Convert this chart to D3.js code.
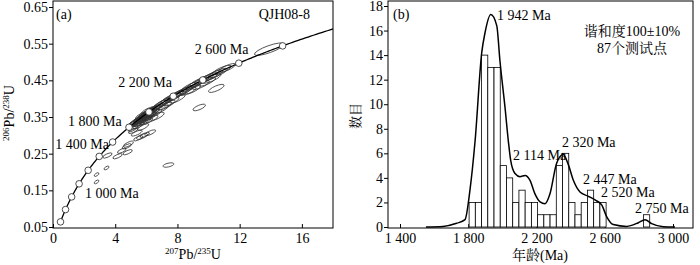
<!DOCTYPE html>
<html lang="zh">
<head>
<meta charset="UTF-8">
<title>QJH08-8 concordia and age histogram</title>
<script src="https://d3js.org/d3.v7.min.js"></script>
<style>
  body { margin: 0; background: #fff; }
  svg text { font-family: "Liberation Serif", "Noto Serif CJK SC", "Noto Sans CJK SC", serif; fill: #000; }
  .tick text { font-size: 14px; }
  .tick line { stroke: #000; stroke-width: 1; }
</style>
</head>
<body>
<svg id="chart" width="700" height="265"></svg>
<script>
// ---- panel (a) data: concordia ----
const lambda238 = 1.55125e-10;
const lambda235 = 9.8485e-10;
const markerAges = [400, 600, 800, 1000, 1200, 1400, 1600, 1800, 2000, 2200, 2400, 2600, 2800];
const ageLabels = [
  { age: 1000, text: "1 000 Ma" },
  { age: 1400, text: "1 400 Ma" },
  { age: 1800, text: "1 800 Ma" },
  { age: 2200, text: "2 200 Ma" },
  { age: 2600, text: "2 600 Ma" }
];
const xTicksA = [0, 4, 8, 12, 16];
const yTicksA = [0.05, 0.15, 0.25, 0.35, 0.45, 0.55, 0.65];

// 207Pb/235U, 206Pb/238U, 2s x, 2s y, rho
const spots = [
  [5.05,0.329,0.35,0.010,0.8],[5.2,0.333,0.4,0.011,0.8],[5.3,0.336,0.45,0.012,0.8],
  [5.4,0.339,0.4,0.011,0.8],[5.5,0.342,0.5,0.012,0.8],[5.55,0.339,0.4,0.010,0.8],
  [5.65,0.346,0.45,0.012,0.8],[5.7,0.348,0.5,0.012,0.8],[5.8,0.351,0.45,0.012,0.8],
  [5.85,0.354,0.5,0.012,0.8],[5.9,0.351,0.4,0.011,0.8],[6.0,0.357,0.45,0.012,0.8],
  [6.05,0.36,0.5,0.012,0.8],[6.1,0.362,0.45,0.012,0.8],[6.2,0.364,0.5,0.013,0.8],
  [6.25,0.361,0.4,0.011,0.8],[6.35,0.368,0.5,0.012,0.8],[6.45,0.371,0.45,0.012,0.8],
  [5.6,0.343,0.35,0.010,0.8],[5.75,0.347,0.35,0.010,0.8],[5.95,0.355,0.35,0.010,0.8],
  [6.15,0.358,0.35,0.010,0.8],[5.45,0.337,0.3,0.009,0.8],[6.6,0.374,0.45,0.012,0.8],
  [5.7,0.342,0.5,0.012,0.8],[5.95,0.350,0.5,0.012,0.8],[6.15,0.355,0.5,0.012,0.8],
  [6.3,0.360,0.5,0.012,0.8],[5.5,0.335,0.45,0.011,0.8],[5.85,0.338,0.45,0.011,0.8],
  [6.05,0.348,0.45,0.011,0.8],[6.4,0.362,0.45,0.011,0.8],[6.1,0.367,0.45,0.011,0.8],
  [5.75,0.355,0.45,0.011,0.8],
  [5.6,0.334,0.4,0.010,0.75],[5.9,0.344,0.45,0.011,0.75],[6.2,0.351,0.45,0.011,0.75],
  [5.3,0.326,0.35,0.009,0.75],[6.55,0.36,0.45,0.011,0.75],[5.15,0.318,0.3,0.008,0.75],
  [5.5,0.327,0.35,0.009,0.75],[6.0,0.338,0.4,0.010,0.75],[6.35,0.345,0.4,0.010,0.75],
  [6.7,0.352,0.45,0.011,0.75],[5.8,0.323,0.35,0.009,0.75],[5.38,0.306,0.35,0.008,0.75],
  [6.25,0.307,0.35,0.008,0.75],[5.15,0.312,0.3,0.007,0.75],
  [6.9,0.384,0.5,0.012,0.8],[7.1,0.389,0.5,0.012,0.8],[7.3,0.394,0.5,0.012,0.8],
  [7.5,0.400,0.55,0.013,0.8],[7.7,0.405,0.5,0.012,0.8],[7.9,0.410,0.5,0.012,0.8],
  [8.1,0.414,0.5,0.012,0.8],[7.2,0.380,0.45,0.011,0.8],[7.6,0.392,0.5,0.012,0.8],
  [8.0,0.400,0.5,0.012,0.8],[8.35,0.419,0.55,0.013,0.8],[8.55,0.424,0.5,0.012,0.8],
  [7.0,0.372,0.45,0.011,0.8],[7.4,0.385,0.45,0.011,0.8],[7.85,0.405,0.4,0.010,0.8],
  [8.8,0.432,0.55,0.013,0.8],[9.1,0.438,0.55,0.013,0.8],[9.4,0.446,0.6,0.013,0.8],
  [9.7,0.452,0.6,0.013,0.8],[10.0,0.458,0.6,0.013,0.8],[10.3,0.464,0.6,0.014,0.8],
  [10.6,0.470,0.6,0.013,0.8],[9.0,0.425,0.5,0.012,0.8],[9.5,0.437,0.55,0.012,0.8],
  [9.9,0.446,0.55,0.012,0.8],[10.2,0.455,0.6,0.013,0.8],[8.7,0.420,0.5,0.011,0.8],
  [10.5,0.428,0.5,0.011,0.75],[9.4,0.376,0.4,0.009,0.7],[10.85,0.478,0.6,0.013,0.8],
  [11.2,0.484,0.55,0.012,0.8],[13.9,0.535,0.95,0.017,0.8],
  [3.5,0.245,0.3,0.007,0.7],[4.15,0.243,0.3,0.007,0.7],[4.42,0.258,0.28,0.007,0.7],
  [4.8,0.254,0.3,0.007,0.7],[4.74,0.270,0.3,0.007,0.7],[4.85,0.276,0.32,0.008,0.7],
  [5.48,0.292,0.3,0.007,0.7],[5.72,0.297,0.35,0.008,0.7],[5.9,0.301,0.3,0.007,0.7],
  [3.44,0.211,0.16,0.005,0.6],[2.8,0.193,0.15,0.005,0.6],[2.8,0.173,0.15,0.005,0.6],
  [7.42,0.219,0.35,0.006,0.5]
];

// ---- panel (b) data: histogram + probability curve ----
const binStart = 1805;
const binWidth = 36.5;
const binCounts = [2,2,14,13,13,5,4,2,3,2,2,1,1,1,5,6,2,1,2,3,2,2,0,0,0,0,0,0,1];
const curveAge = [1552,1652,1732,1781,1810,1840,1879,1898,1932,1967,1986,2015,2035,2049,2074,2103,2133,2162,2191,2221,2250,2279,2318,2357,2386,2416,2455,2504,2543,2582,2611,2650,2729,2797,2836,2875,2943,3012];
const curveVal = [0,0.05,0.3,0.6,3.0,7.0,14.2,15.8,17.3,16.4,13.5,9.8,7.0,5.4,4.35,4.1,4.2,3.8,2.7,2.05,1.9,2.7,5.2,5.9,5.1,3.8,2.85,2.5,2.2,1.8,0.85,0.2,0.05,0.35,0.6,0.27,0.02,0];
const xTicksB = [1400, 1800, 2200, 2600, 3000];
const yTicksB = [0, 2, 4, 6, 8, 10, 12, 14, 16, 18];
const peakLabels = [
  { text: "1 942 Ma", x: 1969, y: 16.85 },
  { text: "2 114 Ma", x: 2062, y: 5.45 },
  { text: "2 320 Ma", x: 2349, y: 6.5 },
  { text: "2 447 Ma", x: 2473, y: 3.5 },
  { text: "2 520 Ma", x: 2578, y: 2.45 },
  { text: "2 750 Ma", x: 2777, y: 1.15 }
];

const svg = d3.select("#chart");
const fmtK = d3.formatLocale({ decimal: ".", thousands: " ", grouping: [3], currency: ["", ""] }).format(",");

// ================= panel (a) =================
const A = { left: 53, right: 333, top: 1, bottom: 228 };
const xA = d3.scaleLinear().domain([0, 18]).range([A.left, A.right]);
const yA = d3.scaleLinear().domain([0.05, 0.65]).range([227, 7]);
const gA = svg.append("g");

gA.append("g")
  .attr("transform", `translate(0,${A.bottom})`)
  .call(d3.axisBottom(xA).tickValues(xTicksA).tickSize(-4).tickPadding(5))
  .call(g => g.select(".domain").remove());
gA.append("g")
  .attr("transform", `translate(${A.left},0)`)
  .call(d3.axisLeft(yA).tickValues(yTicksA).tickSize(4).tickPadding(1).tickFormat(d3.format(".2f")))
  .call(g => g.select(".domain").remove());

// error ellipses
const kx = xA(1) - xA(0), ky = yA(0) - yA(1);
gA.append("g").selectAll("ellipse")
  .data(spots)
  .join("ellipse")
  .each(function (d) {
    const a = d[2] * kx, b = d[3] * ky;
    const sxx = a * a, syy = b * b, sxy = -d[4] * a * b;
    const m = (sxx + syy) / 2, r = Math.sqrt(((sxx - syy) / 2) ** 2 + sxy * sxy);
    const ang = 0.5 * Math.atan2(2 * sxy, sxx - syy) * 180 / Math.PI;
    d3.select(this)
      .attr("rx", Math.sqrt(m + r))
      .attr("ry", Math.sqrt(Math.max(m - r, 0.4)))
      .attr("transform", `translate(${xA(d[0])},${yA(d[1])}) rotate(${ang})`);
  })
  .attr("fill", "none")
  .attr("stroke", "#333")
  .attr("stroke-width", 0.75);

// concordia curve
const conc = t => [Math.exp(lambda235 * t * 1e6) - 1, Math.exp(lambda238 * t * 1e6) - 1];
const tEnd = Math.log(1 + xA.domain()[1]) / lambda235 / 1e6;
const tSteps = d3.range(370, tEnd, 10).concat([tEnd]);
gA.append("path")
  .datum(tSteps.map(conc))
  .attr("d", d3.line().x(p => xA(p[0])).y(p => yA(p[1])))
  .attr("fill", "none")
  .attr("stroke", "#000")
  .attr("stroke-width", 1.3);

gA.append("g").selectAll("circle")
  .data(markerAges.map(conc))
  .join("circle")
  .attr("cx", p => xA(p[0]))
  .attr("cy", p => yA(p[1]))
  .attr("r", 3.3)
  .attr("fill", "#fff")
  .attr("stroke", "#222")
  .attr("stroke-width", 0.8);

// age labels along the curve
const labelOffsets = { 1000: [6, 14], 1400: [-44, -7], 1800: [-61, -1], 2200: [-55, -9.5], 2600: [-44, -9.5] };
gA.append("g").selectAll("text")
  .data(ageLabels)
  .join("text")
  .attr("x", d => xA(conc(d.age)[0]) + labelOffsets[d.age][0])
  .attr("y", d => yA(conc(d.age)[1]) + labelOffsets[d.age][1])
  .attr("font-size", 14)
  .text(d => d.text);

gA.append("rect")
  .attr("x", A.left).attr("y", A.top)
  .attr("width", A.right - A.left).attr("height", A.bottom - A.top)
  .attr("fill", "none").attr("stroke", "#000").attr("stroke-width", 1);

gA.append("text").attr("x", 56).attr("y", 19).attr("font-size", 14).text("(a)");
gA.append("text").attr("x", 310).attr("y", 19).attr("font-size", 14).attr("text-anchor", "end").text("QJH08-8");

const xLabA = gA.append("text").attr("x", 193).attr("y", 259).attr("text-anchor", "middle").attr("font-size", 14);
xLabA.append("tspan").attr("font-size", 9).attr("dy", -5).text("207");
xLabA.append("tspan").attr("dy", 5).text("Pb/");
xLabA.append("tspan").attr("font-size", 9).attr("dy", -5).text("235");
xLabA.append("tspan").attr("dy", 5).text("U");

const yLabA = gA.append("text").attr("transform", "translate(14,113) rotate(-90)").attr("text-anchor", "middle").attr("font-size", 14);
yLabA.append("tspan").attr("font-size", 9).attr("dy", -5).text("206");
yLabA.append("tspan").attr("dy", 5).text("Pb/");
yLabA.append("tspan").attr("font-size", 9).attr("dy", -5).text("238");
yLabA.append("tspan").attr("dy", 5).text("U");

// ================= panel (b) =================
const B = { left: 388, right: 693, top: 1, bottom: 228 };
const xB = d3.scaleLinear().domain([1400, 3000]).range([400, 673]);
const yB = d3.scaleLinear().domain([0, 18]).range([227, 6]);
const gB = svg.append("g");

gB.append("g")
  .attr("transform", `translate(0,${B.bottom})`)
  .call(d3.axisBottom(xB).tickValues(xTicksB).tickSize(-4).tickPadding(5).tickFormat(fmtK))
  .call(g => g.select(".domain").remove());
gB.append("g")
  .attr("transform", `translate(${B.left},0)`)
  .call(d3.axisLeft(yB).tickValues(yTicksB).tickSize(4).tickPadding(1))
  .call(g => g.select(".domain").remove());

gB.append("g").selectAll("rect")
  .data(binCounts.map((c, i) => ({ x0: binStart + i * binWidth, c })).filter(d => d.c > 0))
  .join("rect")
  .attr("x", d => xB(d.x0))
  .attr("width", d => xB(d.x0 + binWidth) - xB(d.x0))
  .attr("y", d => yB(d.c))
  .attr("height", d => yB(0) - yB(d.c))
  .attr("fill", "#fff")
  .attr("stroke", "#000")
  .attr("stroke-width", 0.8);

gB.append("path")
  .datum(curveAge.map((a, i) => [a, curveVal[i]]))
  .attr("d", d3.line().x(p => xB(p[0])).y(p => yB(p[1])).curve(d3.curveMonotoneX))
  .attr("fill", "none")
  .attr("stroke", "#000")
  .attr("stroke-width", 1.5);

gB.append("g").selectAll("text")
  .data(peakLabels)
  .join("text")
  .attr("x", d => xB(d.x))
  .attr("y", d => yB(d.y))
  .attr("font-size", 14)
  .text(d => d.text);

gB.append("rect")
  .attr("x", B.left).attr("y", B.top)
  .attr("width", B.right - B.left).attr("height", B.bottom - B.top)
  .attr("fill", "none").attr("stroke", "#000").attr("stroke-width", 1);

gB.append("text").attr("x", 393).attr("y", 19).attr("font-size", 14).text("(b)");
gB.append("text").attr("x", 632).attr("y", 36).attr("font-size", 14).attr("text-anchor", "middle").text("谐和度100±10%");
gB.append("text").attr("x", 632).attr("y", 53).attr("font-size", 14).attr("text-anchor", "middle").text("87个测试点");

gB.append("text").attr("transform", "translate(360,116) rotate(-90)").attr("text-anchor", "middle").attr("font-size", 13).text("数目");
gB.append("text").attr("x", 540).attr("y", 260).attr("text-anchor", "middle").attr("font-size", 14).text("年龄(Ma)");
</script>
</body>
</html>
